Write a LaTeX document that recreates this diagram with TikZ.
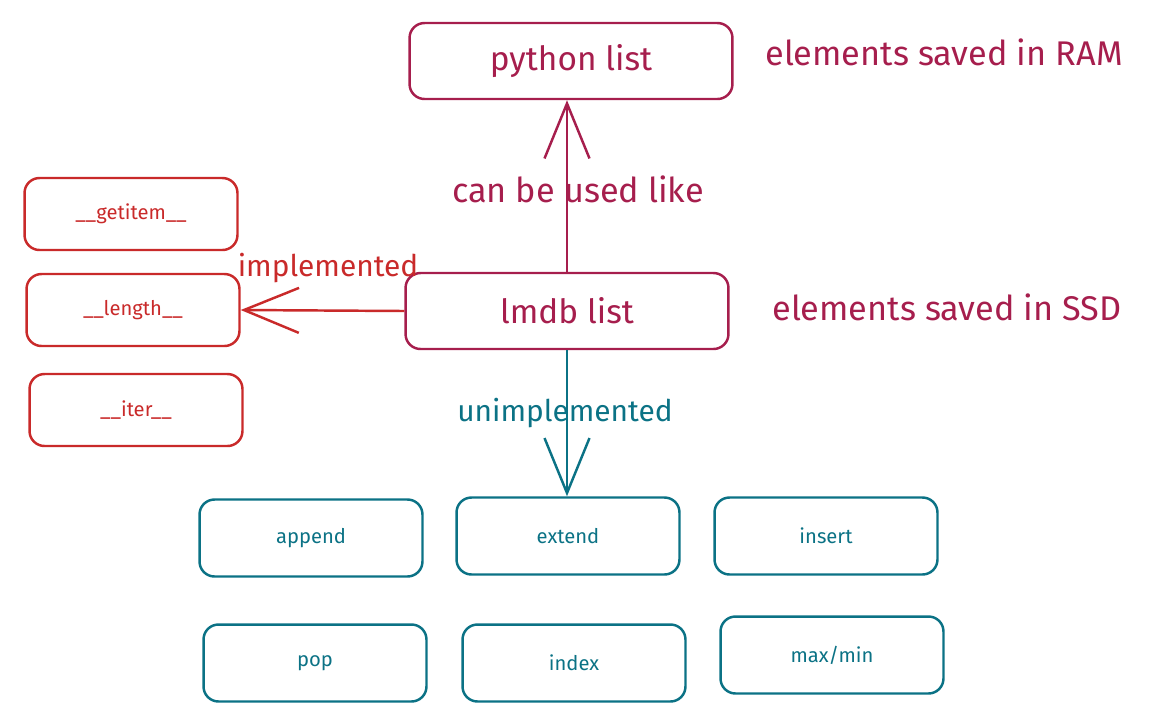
\documentclass[tikz,border=0pt]{standalone}
\usepackage{fontspec}
\setmainfont{Fira Sans}
\usetikzlibrary{arrows.meta}
\definecolor{ramcol}{HTML}{A61E4D}
\definecolor{implcol}{HTML}{C92A2A}
\definecolor{unimplcol}{HTML}{0B7285}
\newcommand{\bigfont}{\fontsize{19.5}{23}\selectfont}
\newcommand{\boxfont}{\fontsize{19}{22}\selectfont}
\newcommand{\labelfont}{\fontsize{17}{20}\selectfont}
\newcommand{\smallfont}{\fontsize{11.5}{14}\selectfont}

\begin{document}
\begin{tikzpicture}[x=0.02cm,y=-0.02cm,
    listbox/.style={draw,rounded corners=0.3cm,line width=1.4pt,minimum width=6.46cm,minimum height=1.52cm,font=\boxfont},
    methbox/.style={draw,rounded corners=0.3cm,line width=1.4pt,minimum width=4.46cm,minimum height=1.54cm,font=\smallfont},
    sketcharrow/.style={-{Straight Barb[length=1.1cm,width=0.9cm]},line width=1.4pt}]
  \useasboundingbox (0,0) rectangle (1150,718);

  % list boxes
  \node[listbox,ramcol] (python) at (571,61) {python list};
  \node[listbox,ramcol] (lmdb) at (567,311) {lmdb list};
  \node[font=\bigfont,ramcol] (ramnote) at (944,52) {elements saved in RAM};
  \node[font=\bigfont,ramcol] (ssdnote) at (947,307) {elements saved in SSD};

  % implemented methods
  \node[methbox,implcol,minimum width=4.26cm,minimum height=1.44cm] (getitem) at (131,214) {\_\_getitem\_\_};
  \node[methbox,implcol,minimum width=4.26cm,minimum height=1.44cm] (length) at (133,310) {\_\_length\_\_};
  \node[methbox,implcol,minimum width=4.26cm,minimum height=1.44cm] (iter) at (136,410) {\_\_iter\_\_};

  % unimplemented methods
  \node[methbox,unimplcol] (append) at (311,538) {append};
  \node[methbox,unimplcol] (extend) at (568,536) {extend};
  \node[methbox,unimplcol] (insert) at (826,536) {insert};
  \node[methbox,unimplcol] (pop) at (315,663) {pop};
  \node[methbox,unimplcol] (index) at (574,663) {index};
  \node[methbox,unimplcol] (maxmin) at (832,655) {max/min};

  % connectors
  \draw[sketcharrow,ramcol] (lmdb.north) -- (lmdb.north |- python.south);
  \node[font=\bigfont,ramcol] (uselabel) at (578,189) {can be used like};

  \draw[sketcharrow,implcol] (lmdb.west) -- (length.east);
  \node[font=\labelfont,implcol] (impllabel) at (328,268) {implemented};

  \draw[sketcharrow,unimplcol] (lmdb.south) -- (lmdb.south |- extend.north);
  \node[font=\labelfont,unimplcol] (unimpllabel) at (565,413) {unimplemented};
\end{tikzpicture}
\end{document}
